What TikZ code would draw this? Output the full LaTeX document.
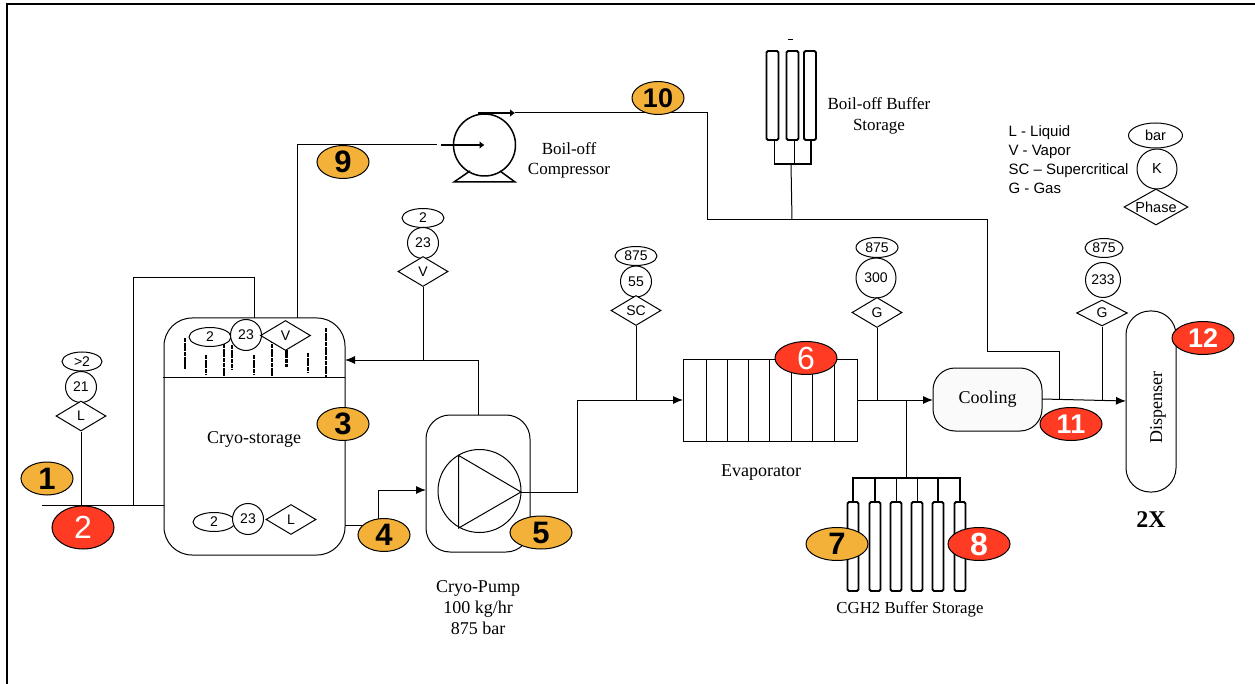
\documentclass[tikz,border=0pt]{standalone}
\usepackage{fontspec}
\setmainfont{Liberation Serif}
\setsansfont{Liberation Sans}
\usetikzlibrary{shapes.geometric,arrows.meta}

\definecolor{tagorange}{HTML}{F4B13A}
\definecolor{tagred}{HTML}{FF3B24}

\tikzset{
	tagbase/.style={ellipse, draw, inner sep=0pt, minimum width=52pt, minimum height=33pt},
	tagone/.style={tagbase, fill=tagorange, font=\sffamily\bfseries\fontsize{31}{31}\selectfont},
	tagtwo/.style={tagbase, fill=tagred, text=white, minimum width=62pt, font=\sffamily\fontsize{32}{32}\selectfont},
	barval/.style={ellipse, draw, fill=white, inner sep=0pt, minimum width=42pt, minimum height=19pt, font=\sffamily\fontsize{14}{14}\selectfont},
	tempval/.style={circle, draw, fill=white, inner sep=0pt, minimum size=31pt, font=\sffamily\fontsize{14}{14}\selectfont},
	phaseval/.style={diamond, shape aspect=1.7, draw, fill=white, inner sep=0pt, minimum width=50pt, minimum height=30pt, font=\sffamily\fontsize{14}{14}\selectfont},
	unit/.style={draw, inner sep=0pt},
	tube/.style={draw, line width=1.8pt, rounded corners=1.5pt, inner sep=0pt},
	caption/.style={align=center, inner sep=0pt, font=\fontsize{18}{21}\selectfont},
	vapormark/.style={line width=2.8pt, dash pattern=on 4pt off 0.7pt},
	smalltip/.style={>={Latex[length=5pt,width=8pt]}}
}

\begin{document}
\begin{tikzpicture}[x=1pt, y=-1pt, >={Latex[length=10pt,width=8pt]}, line width=1pt]

	\useasboundingbox (0,0) rectangle (1255,684);

	% frame %
	\coordinate (framea) at (7,684);
	\coordinate (frameb) at (7,4);
	\coordinate (framec) at (1255,4);
	\draw[line width=2pt] (framea) -- (frameb) -- (framec);

	% main units %
	\node[unit, rounded corners=28pt, minimum width=181pt, minimum height=237pt] (storage) at (254.5,436.5) {};
	\node[unit, rounded corners=24pt, minimum width=104pt, minimum height=137pt] (pump) at (478,483.5) {};
	\node[unit, minimum width=174pt, minimum height=82pt] (evap) at (770,400.5) {};
	\node[unit, fill=black!2, rounded corners=22pt, minimum width=109pt, minimum height=63pt, font=\fontsize{18}{18}\selectfont] (cooling) at (987.5,399.5) {Cooling};
	\node[unit, rounded corners=24pt, minimum width=50pt, minimum height=181pt] (dispenser) at (1151,401.5) {};
	\node[rotate=90, inner sep=0pt, font=\fontsize{18}{18}\selectfont] (disptext) at (1158,407.5) {Dispenser};

	% liquid level %
	\coordinate (levela) at (163,377);
	\coordinate (levelb) at (345,377);
	\draw (levela) -- (levelb);

	% evaporator plates %
	\draw (706,359.5) -- (706,441.5);
	\draw (727,359.5) -- (727,441.5);
	\draw (748,359.5) -- (748,441.5);
	\draw (769,359.5) -- (769,441.5);
	\draw (791,359.5) -- (791,441.5);
	\draw (812,359.5) -- (812,441.5);
	\draw (834,359.5) -- (834,441.5);

	% pump symbol %
	\node[circle, draw, inner sep=0pt, minimum size=83pt] (pumpwheel) at (479.5,491) {};
	\coordinate (pumpa) at (458.7,455.5);
	\coordinate (pumpb) at (458.7,528);
	\coordinate (pumpc) at (521,492);
	\draw (pumpa) -- (pumpb) -- (pumpc) -- cycle;

	% compressor symbol %
	\node[circle, draw, line width=1.5pt, inner sep=0pt, minimum size=62pt] (comp) at (484.5,145) {};
	\coordinate (compbasea) at (470,171);
	\coordinate (compbaseb) at (454,182);
	\coordinate (compbasec) at (515,182);
	\coordinate (compbased) at (500,171);
	\draw[line width=1.5pt] (compbasea) -- (compbaseb) -- (compbasec) -- (compbased);

	% vapor marks %
	\draw[vapormark] (185,338) -- (185,369);
	\draw[vapormark] (206,355) -- (206,375);
	\draw[vapormark] (224,344) -- (224,378);
	\draw[vapormark] (232,345) -- (232,370);
	\draw[vapormark] (254,355) -- (254,375);
	\draw[vapormark] (272,330) -- (272,377);
	\draw[vapormark] (286.5,345) -- (286.5,367);
	\draw[vapormark] (308,353) -- (308,373);
	\draw[vapormark] (326,328) -- (326,377);

	% stream states %
	\node[barval, minimum width=40pt] (barfeed) at (82,361.5) {>2};
	\node[tempval] (tempfeed) at (81,387) {21};
	\node[phaseval] (phasefeed) at (81,416) {L};

	\node[barval] (bartop) at (210,337) {2};
	\node[tempval] (temptop) at (246,335) {23};
	\node[phaseval] (phasetop) at (285.5,335.5) {V};

	\node[barval] (barbot) at (214,522) {2};
	\node[tempval] (tempbot) at (248,519) {23};
	\node[phaseval] (phasebot) at (291,519.5) {L};

	\node[barval] (barvent) at (423,218) {2};
	\node[tempval] (tempvent) at (423,243) {23};
	\node[phaseval] (phasevent) at (423,271.5) {V};

	\node[barval] (barpump) at (636,256) {875};
	\node[tempval] (temppump) at (636,281.5) {55};
	\node[phaseval] (phasepump) at (636,310.5) {SC};

	\node[barval, minimum height=20pt] (barevap) at (877,247.5) {875};
	\node[tempval, minimum size=40pt] (tempevap) at (876,278) {300};
	\node[phaseval] (phaseevap) at (877,312.5) {G};

	\node[barval, minimum width=38pt] (barcool) at (1104,248) {875};
	\node[tempval, minimum size=35pt] (tempcool) at (1103,280) {233};
	\node[phaseval, minimum width=51pt, minimum height=26pt] (phasecool) at (1102,313) {G};

	% key %
	\node[barval, minimum width=54pt, minimum height=25pt, font=\sffamily\fontsize{14.5}{15}\selectfont] (barkey) at (1155.5,135.5) {bar};
	\node[tempval, minimum size=40pt, font=\sffamily\fontsize{14.5}{15}\selectfont] (tempkey) at (1157,169) {K};
	\node[phaseval, minimum width=64pt, minimum height=36pt, font=\sffamily\fontsize{14.5}{15}\selectfont] (phasekey) at (1156,207) {Phase};
	\node[anchor=north west, align=left, inner sep=0pt, font=\sffamily\fontsize{15}{19}\selectfont] (keytext) at (1008,125.5) {L - Liquid\\V - Vapor\\SC -- Supercritical\\G - Gas};

	% feed line %
	\coordinate (feedstart) at (42,505);
	\coordinate (feedjoin) at (81,505);
	\coordinate (bypassa) at (133,505);
	\coordinate (bypassb) at (133,278);
	\coordinate (bypassc) at (254,278);
	\coordinate (bypassd) at (254,318);
	\coordinate (feedend) at (164,505);
	\draw (feedstart) -- (feedend);
	\draw (phasefeed) -- (feedjoin);
	\draw (bypassa) -- (bypassb) -- (bypassc) -- (bypassd);

	% boil-off line %
	\coordinate (boilstart) at (297,318);
	\coordinate (boilb) at (297,145);
	\coordinate (boilc) at (437,145);
	\coordinate (boild) at (441,145);
	\draw (boilstart) -- (boilb) -- (boilc);
	\draw[smalltip, ->, line width=1.1pt] (boild) -- (comp.center);

	% compressor outlet %
	\coordinate (compouta) at (478,113);
	\coordinate (compoutb) at (515,113);
	\coordinate (hpa) at (707,113);
	\coordinate (hpb) at (707,220);
	\coordinate (hpc) at (987,220);
	\coordinate (hpd) at (987,352);
	\coordinate (hpe) at (1059,352);
	\coordinate (hpf) at (1059,400);
	\draw (compoutb) -- (hpa) -- (hpb) -- (hpc) -- (hpd) -- (hpe) -- (hpf);
	\draw[smalltip, ->, line width=1.5pt] (compouta) -- (compoutb);

	% boil-off buffer %
	\node[tube, minimum width=12pt, minimum height=89pt] (boiltubea) at (772.5,95.5) {};
	\node[tube, minimum width=12pt, minimum height=89pt] (boiltubeb) at (792.5,95.5) {};
	\node[tube, minimum width=12pt, minimum height=89pt] (boiltubec) at (810,95.5) {};
	\coordinate (boilheada) at (774,164);
	\coordinate (boilheadb) at (811,164);
	\coordinate (boilheadc) at (794,164);
	\coordinate (boilheadd) at (791,164);
	\coordinate (boiljoin) at (792,220);
	\coordinate (boilticka) at (788,40);
	\coordinate (boiltickb) at (793,40);
	\draw (boilticka) -- (boiltickb);
	\draw (boiltubea.south -| boilheada) -- (boilheada);
	\draw (boiltubeb.south -| boilheadc) -- (boilheadc);
	\draw[line width=1.6pt] (boiltubec.south -| boilheadb) -- (boilheadb) -- (boilheada);
	\draw (boilheadd) -- (boiljoin);

	% pump lines %
	\coordinate (tankouta) at (345,525);
	\coordinate (tankoutb) at (378,525);
	\coordinate (tankoutc) at (378,490);
	\coordinate (pumpin) at (426,490);
	\draw[->] (tankouta) -- (tankoutb) -- (tankoutc) -- (pumpin);

	\coordinate (returna) at (478,415);
	\coordinate (returnb) at (478,360);
	\coordinate (returnc) at (345,360);
	\coordinate (ventjoin) at (423,360);
	\draw[->] (returna) -- (returnb) -- (returnc);
	\draw (phasevent) -- (ventjoin);

	\coordinate (pumpouta) at (577,492);
	\coordinate (pumpoutb) at (577,400);
	\coordinate (evapin) at (683,400);
	\coordinate (pumpjoin) at (636,400);
	\draw[->] (pumpc) -- (pumpouta) -- (pumpoutb) -- (evapin);
	\draw (phasepump) -- (pumpjoin);

	% evaporator to cooling %
	\coordinate (evapout) at (857,400);
	\coordinate (coolin) at (933,400);
	\coordinate (evapjoin) at (877,400);
	\coordinate (headjoin) at (906,400);
	\draw[->] (evapout) -- (coolin);
	\draw (phaseevap) -- (evapjoin);

	% cooling to dispenser %
	\coordinate (coolout) at (1042,399);
	\coordinate (dispin) at (1126,401);
	\coordinate (cooljoin) at (1102,401);
	\draw[->] (coolout) -- (dispin);
	\draw (phasecool) -- (cooljoin);

	% CGH2 buffer %
	\node[tube, minimum width=11pt, minimum height=89pt] (cghtubea) at (853,546.5) {};
	\node[tube, minimum width=11pt, minimum height=89pt] (cghtubeb) at (875,546.5) {};
	\node[tube, minimum width=11pt, minimum height=89pt] (cghtubec) at (896,546.5) {};
	\node[tube, minimum width=11pt, minimum height=89pt] (cghtubed) at (917,546.5) {};
	\node[tube, minimum width=11pt, minimum height=89pt] (cghtubee) at (938,546.5) {};
	\node[tube, minimum width=11pt, minimum height=89pt] (cghtubef) at (960,546.5) {};
	\coordinate (headleft) at (853,478);
	\coordinate (headright) at (960,478);
	\coordinate (headmid) at (906,478);
	\draw[line width=1.8pt] (cghtubea.north) -- (headleft) -- (headright) -- (cghtubef.north);
	\draw[line width=1.3pt] (cghtubeb.north) -- (cghtubeb.north |- headleft);
	\draw (cghtubec.north) -- (cghtubec.north |- headleft);
	\draw (cghtubed.north) -- (cghtubed.north |- headleft);
	\draw[line width=1.3pt] (cghtubee.north) -- (cghtubee.north |- headleft);
	\draw (headjoin) -- (headmid);

	% captions %
	\node[caption] (storagetext) at (254,439.5) {Cryo-storage};
	\node[caption] (pumptext) at (478,608) {Cryo-Pump\\100 kg/hr\\875 bar};
	\node[caption, font=\fontsize{17}{20}\selectfont] (comptext) at (569,160) {Boil-off\\Compressor};
	\node[caption, font=\fontsize{17}{21}\selectfont] (bufftext) at (879,115.5) {Boil-off Buffer\\Storage};
	\node[caption] (evaptext) at (761,472.5) {Evaporator};
	\node[caption, font=\fontsize{16.8}{18}\selectfont] (cghtext) at (910,609) {CGH2 Buffer Storage};
	\node[inner sep=0pt, font=\bfseries\fontsize{24}{24}\selectfont] (twox) at (1151,519.5) {2X};

	% numbered tags %
	\node[tagone] (tagA) at (47,478.5) {1};
	\node[tagtwo, minimum height=43pt] (tagB) at (83,527.5) {2};
	\node[tagone] (tagC) at (343,424) {3};
	\node[tagone] (tagD) at (384,535) {4};
	\node[tagone, minimum width=62pt] (tagE) at (541,532.5) {5};
	\node[tagtwo] (tagF) at (806,358) {6};
	\node[tagone, minimum width=62pt] (tagG) at (837,544) {7};
	\node[tagtwo, font=\sffamily\bfseries\fontsize{32}{32}\selectfont] (tagH) at (979,544) {8};
	\node[tagone] (tagI) at (343,162) {9};
	\node[tagone, font=\sffamily\bfseries\fontsize{27}{27}\selectfont] (tagJ) at (658,98) {10};
	\node[tagtwo, font=\sffamily\bfseries\fontsize{27}{27}\selectfont] (tagK) at (1071,424) {11};
	\node[tagtwo, font=\sffamily\bfseries\fontsize{27}{27}\selectfont] (tagL) at (1203,338) {12};

\end{tikzpicture}
\end{document}
